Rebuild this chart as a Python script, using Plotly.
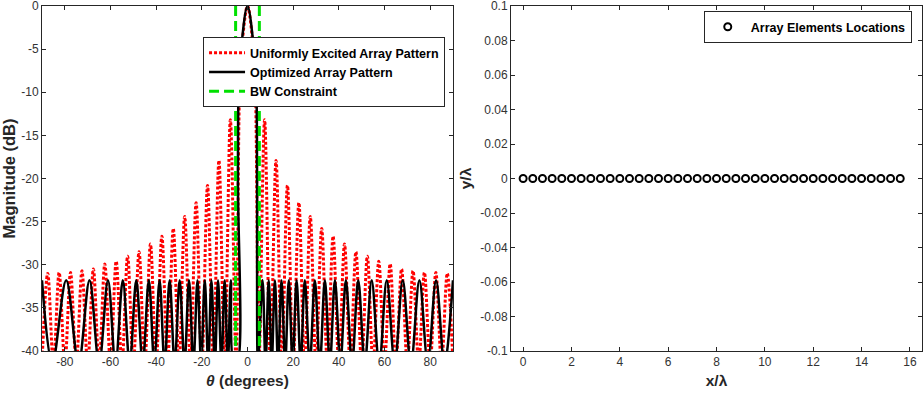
import plotly.graph_objects as go
from plotly.subplots import make_subplots

# ---------------- data ----------------
# Uniformly excited pattern (red): main beam samples, side-lobe peaks, nulls (deg)
red_main_deg = [-5.0, -3.5, -2.55, 0.0, 2.55, 3.5, 5.0]
red_main_db = [-41.5, -10.0, -5.0, 0.0, -5.0, -10.0, -41.5]
red_peak_deg = [7.5, 12.5, 17.5, 22.5, 27.5, 32.5, 37.5, 42.5, 47.5, 52.5,
                57.5, 62.5, 67.5, 72.5, 77.5, 82.5, 87.5]
red_peak_db = [-13.2, -17.9, -20.8, -22.8, -24.4, -25.8, -26.7, -27.6, -28.5,
               -29.0, -29.6, -29.9, -30.5, -30.7, -30.9, -30.9, -31.0]
red_null_deg = [10, 15, 20, 25, 30, 35, 40, 45, 50, 55, 60, 65, 70, 75, 80, 85, 90]

# Optimized pattern (black): main beam, then side lobes on each side
blk_main_deg = [-4.6, -4.2, -3.9, -2.8, 0.0, 2.8, 3.9, 4.2, 4.6]
blk_main_db = [-41.5, -20.0, -10.0, -5.0, 0.0, -5.0, -10.0, -20.0, -41.5]
blk_left_peak_deg = [-90.0, -79.4, -69.2, -61.1, -54.6, -48.7, -43.2, -38.5, -34.1,
                     -29.7, -25.6, -21.9, -18.7, -15.8, -12.9, -10.0, -7.3]
blk_left_null_deg = [-85.5, -74.0, -65.0, -57.8, -51.6, -45.9, -40.8, -36.3, -31.9,
                     -27.6, -23.7, -20.3, -17.2, -14.3, -11.4, -8.6, -6.0]
blk_right_peak_deg = [6.6, 9.3, 12.0, 14.9, 18.1, 21.5, 25.1, 29.5, 33.9, 38.3, 43.1,
                      48.5, 54.4, 61.0, 68.0, 75.3, 82.6, 90.0]
blk_right_null_deg = [7.9, 10.6, 13.4, 16.5, 19.8, 23.3, 27.3, 31.7, 36.1, 40.7, 45.8,
                      51.4, 57.7, 64.5, 71.6, 79.0, 86.3]
blk_sidelobe_db = -31.8

NULL_DB = -41.5  # drawn level of nulls (just below the visible range)

# BW constraint
bw_deg = 5.2

# Array element locations (x / lambda)
elem_x = [0.0, 0.4, 0.8, 1.2, 1.6, 2.0, 2.4, 2.8, 3.2, 3.6, 4.0, 4.4, 4.8, 5.2,
          5.6, 6.0, 6.4, 6.8, 7.2, 7.6, 8.0, 8.4, 8.8, 9.2, 9.6, 10.0, 10.4,
          10.8, 11.2, 11.6, 12.0, 12.4, 12.8, 13.2, 13.6, 14.0, 14.4, 14.8,
          15.2, 15.6]
elem_y = [0.0] * len(elem_x)

# tick labels
x1_ticks = [-80, -60, -40, -20, 0, 20, 40, 60, 80]
y1_ticks = [0, -5, -10, -15, -20, -25, -30, -35, -40]
x2_ticks = [0, 2, 4, 6, 8, 10, 12, 14, 16]
y2_ticks = [0.1, 0.08, 0.06, 0.04, 0.02, 0, -0.02, -0.04, -0.06, -0.08, -0.1]
y2_labels = ["0.1", "0.08", "0.06", "0.04", "0.02", "0", "-0.02", "-0.04",
             "-0.06", "-0.08", "-0.1"]


def merge(*pairs):
    pts = []
    for xs, ys in pairs:
        pts += list(zip(xs, ys))
    pts = sorted(set(pts))
    return [p[0] for p in pts], [p[1] for p in pts]


rx, ry = merge(
    (red_main_deg, red_main_db),
    (red_peak_deg, red_peak_db),
    ([-a for a in red_peak_deg], red_peak_db),
    (red_null_deg, [NULL_DB] * len(red_null_deg)),
    ([-a for a in red_null_deg], [NULL_DB] * len(red_null_deg)),
)
bx, by = merge(
    (blk_main_deg, blk_main_db),
    (blk_left_peak_deg, [blk_sidelobe_db] * len(blk_left_peak_deg)),
    (blk_left_null_deg, [NULL_DB] * len(blk_left_null_deg)),
    (blk_right_peak_deg, [blk_sidelobe_db] * len(blk_right_peak_deg)),
    (blk_right_null_deg, [NULL_DB] * len(blk_right_null_deg)),
)

fig = make_subplots(rows=1, cols=2, horizontal_spacing=0.066)

fig.add_trace(go.Scatter(x=rx, y=ry, mode="lines", name="Uniformly Excited Array Pattern",
                         line=dict(color="#ff0000", width=3, dash="3px,2px", shape="spline"),
                         legend="legend"), row=1, col=1)
fig.add_trace(go.Scatter(x=bx, y=by, mode="lines", name="Optimized Array Pattern",
                         line=dict(color="#000000", width=2.5, shape="spline"),
                         legend="legend"), row=1, col=1)
fig.add_trace(go.Scatter(x=[-bw_deg, -bw_deg, None, bw_deg, bw_deg], y=[0, -40, None, 0, -40],
                         mode="lines", name="BW Constraint",
                         line=dict(color="#00e000", width=3, dash="10px,5px"),
                         legend="legend"), row=1, col=1)
fig.add_trace(go.Scatter(x=elem_x, y=elem_y, mode="markers", name="Array Elements Locations",
                         marker=dict(symbol="circle-open", size=7, color="#000000",
                                     line=dict(width=2, color="#000000")),
                         legend="legend2"), row=1, col=2)

axis_common = dict(showline=True, mirror="ticks", linecolor="#262626", linewidth=1,
                   ticks="inside", ticklen=4, tickcolor="#262626", showgrid=False,
                   zeroline=False, automargin=False, ticklabeloverflow="allow",
                   tickfont=dict(family="Arial", size=12, color="#333333"))
title_font = dict(family="Arial", size=15.5, color="#262626", weight="bold")

fig.update_xaxes(range=[-90, 90], tickvals=x1_ticks, ticktext=[str(t) for t in x1_ticks],
                 title=dict(text="<i>θ</i> (degrees)", font=title_font, standoff=6),
                 row=1, col=1, **axis_common)
fig.update_yaxes(range=[-40, 0], tickvals=y1_ticks, ticktext=[str(t) for t in y1_ticks],
                 title=dict(text="Magnitude (dB)",
                            font=dict(family="Arial", size=16.5, color="#262626", weight="bold"),
                            standoff=2),
                 row=1, col=1, **axis_common)
fig.update_xaxes(range=[-0.5, 16.5], tickvals=x2_ticks, ticktext=[str(t) for t in x2_ticks],
                 title=dict(text="x/λ", font=title_font, standoff=6),
                 row=1, col=2, **axis_common)
fig.update_yaxes(range=[-0.1, 0.1], tickvals=y2_ticks, ticktext=y2_labels,
                 title=dict(text="y/λ", font=title_font, standoff=4),
                 row=1, col=2, **axis_common)

fig.update_layout(
    width=924, height=396,
    margin=dict(l=42, r=2, t=6, b=45, autoexpand=False),
    plot_bgcolor="white", paper_bgcolor="white",
    xaxis=dict(domain=[0.0, 0.467]),
    xaxis2=dict(domain=[0.533, 1.0]),
    legend=dict(x=0.183, y=0.91, xanchor="left", yanchor="top",
                bgcolor="white", bordercolor="#262626", borderwidth=1,
                font=dict(family="Arial", size=12.5, color="#000000", weight="bold"),
                tracegroupgap=0, itemwidth=36),
    legend2=dict(x=0.752, y=0.985, xanchor="left", yanchor="top",
                 bgcolor="white", bordercolor="#262626", borderwidth=1,
                 itemwidth=36,
                 font=dict(family="Arial", size=12.5, color="#000000", weight="bold")),
    showlegend=True,
)

fig.write_html("out.html", config={"displayModeBar": False},
               post_script="document.body.style.margin='0';document.body.style.overflow='hidden';")
